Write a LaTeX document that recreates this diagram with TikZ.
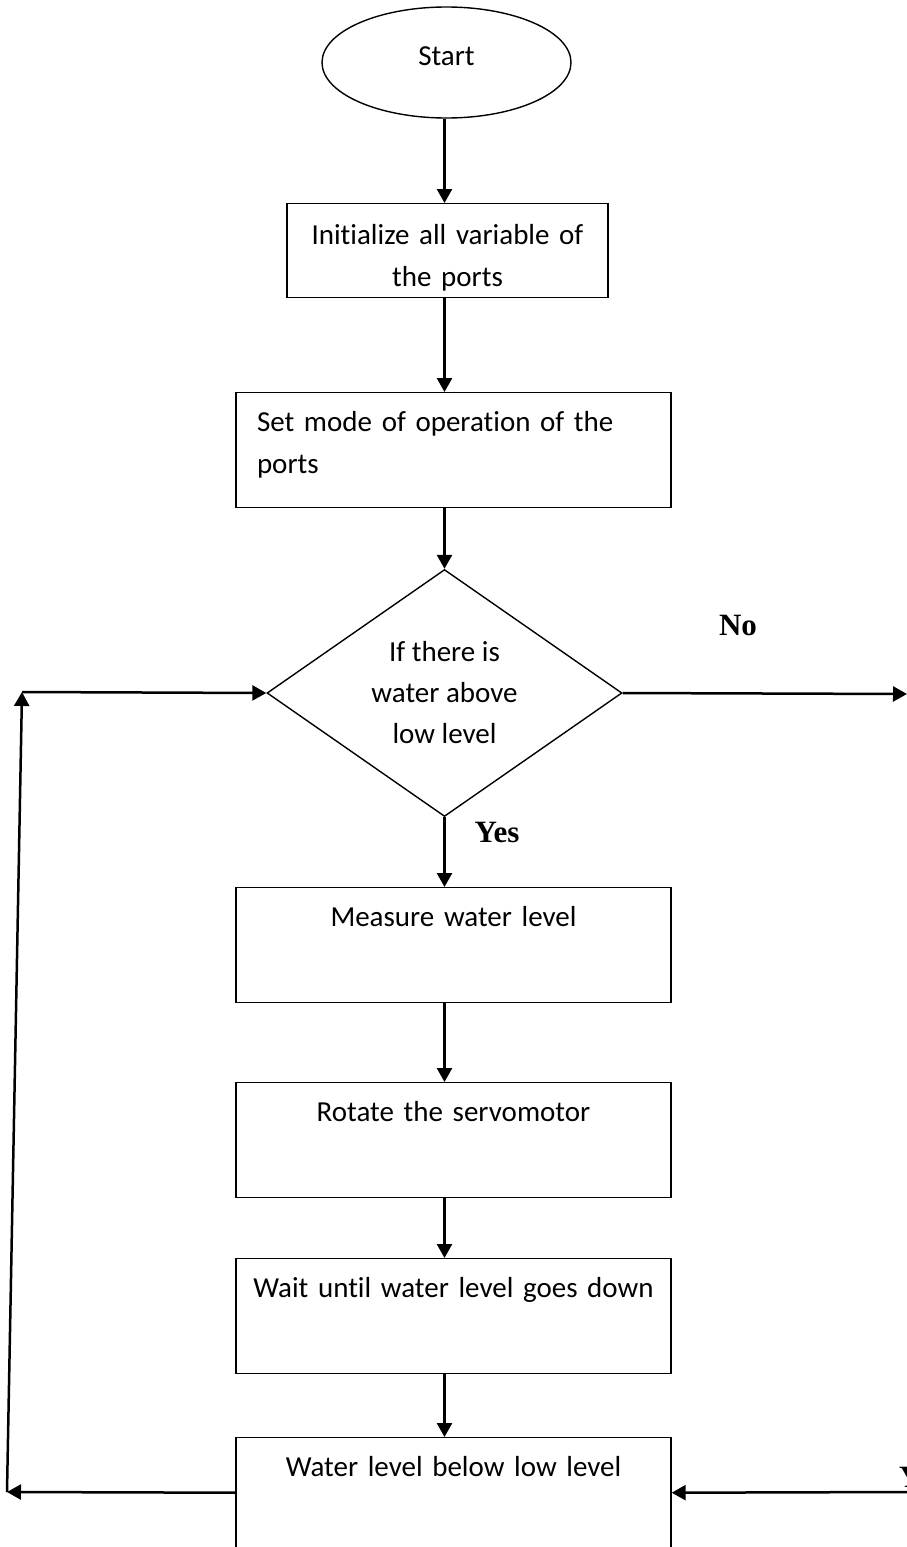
\documentclass[tikz,border=0pt]{standalone}
\usepackage{fontspec}
\setmainfont{Carlito}[Ligatures=NoCommon]
\newfontfamily\answerfont{Liberation Serif}
\usetikzlibrary{shapes.geometric,arrows.meta}

\begin{document}
\begin{tikzpicture}[x=1pt,y=-1pt,
  font=\fontsize{29}{42}\selectfont,
  box/.style={draw,line width=1.4pt,rectangle,anchor=north,text width=425pt,inner xsep=5pt,inner ysep=0pt,text height=39pt,text depth=76pt,align=center},
  flow/.style={line width=2.5pt,-{Triangle[length=14pt,width=15pt]}},
  answer/.style={font=\answerfont\bfseries\fontsize{31}{36}\selectfont,inner sep=0pt}]
\useasboundingbox (0,0) rectangle (907,1547);
\clip (0,0) rectangle (907,1547);

\node[draw,ellipse,line width=1.4pt,minimum width=249pt,minimum height=111pt,inner sep=0pt,text height=23pt,text depth=17pt] (start) at (446.5,62.5) {Start};
\node[box,text width=301pt,inner xsep=10pt,text height=41pt,text depth=53pt] (init) at (447.5,203) {Initialize all variable of\\the ports};
\node[box,align=left,text width=393pt,inner xsep=21pt] (setmode) at (453.5,392) {Set mode of operation of the\\ports};
\node[draw,diamond,shape aspect=1.44,line width=1.4pt,minimum width=355pt,minimum height=247pt,inner sep=0pt,align=center,font=\fontsize{29}{41}\selectfont] (decide) at (444.5,693) {If there is\\water above\\low level};
\node[box] (measure) at (453.5,887) {Measure water level};
\node[box] (rotate) at (453.5,1082) {Rotate the servomotor};
\node[box] (wait) at (453.5,1258) {Wait until water level goes down};
\node[box,text depth=71pt] (below) at (453.5,1437) {Water level below low level};

\node[answer] (no) at (738,625) {No};
\node[answer] (yes) at (497,832) {Yes};
\node[answer,anchor=base west] (yesright) at (899,1487) {Yes};

\coordinate (noend) at (907,694);
\coordinate (loopbottom) at (7,1492);
\coordinate (looptop) at (22,692);
\coordinate (rightin) at (907,1492);

\draw[flow] (start.south -| decide) -- (init.north -| decide);
\draw[flow] (init.south -| decide) -- (setmode.north -| decide);
\draw[flow] (setmode.south -| decide) -- (decide.north);
\draw[flow] (decide.east) -- (noend);
\draw[flow] (decide.south) -- (decide.south |- measure.north);
\draw[flow] (measure.south -| decide) -- (rotate.north -| decide);
\draw[flow] (rotate.south -| decide) -- (wait.north -| decide);
\draw[flow] (wait.south -| decide) -- (below.north -| decide);
\draw[flow] (below.west) -- (loopbottom);
\draw[flow] (loopbottom) -- (looptop);
\draw[flow] (looptop) -- (decide.west);
\draw[flow] (rightin) -- (below.east);
\end{tikzpicture}
\end{document}
